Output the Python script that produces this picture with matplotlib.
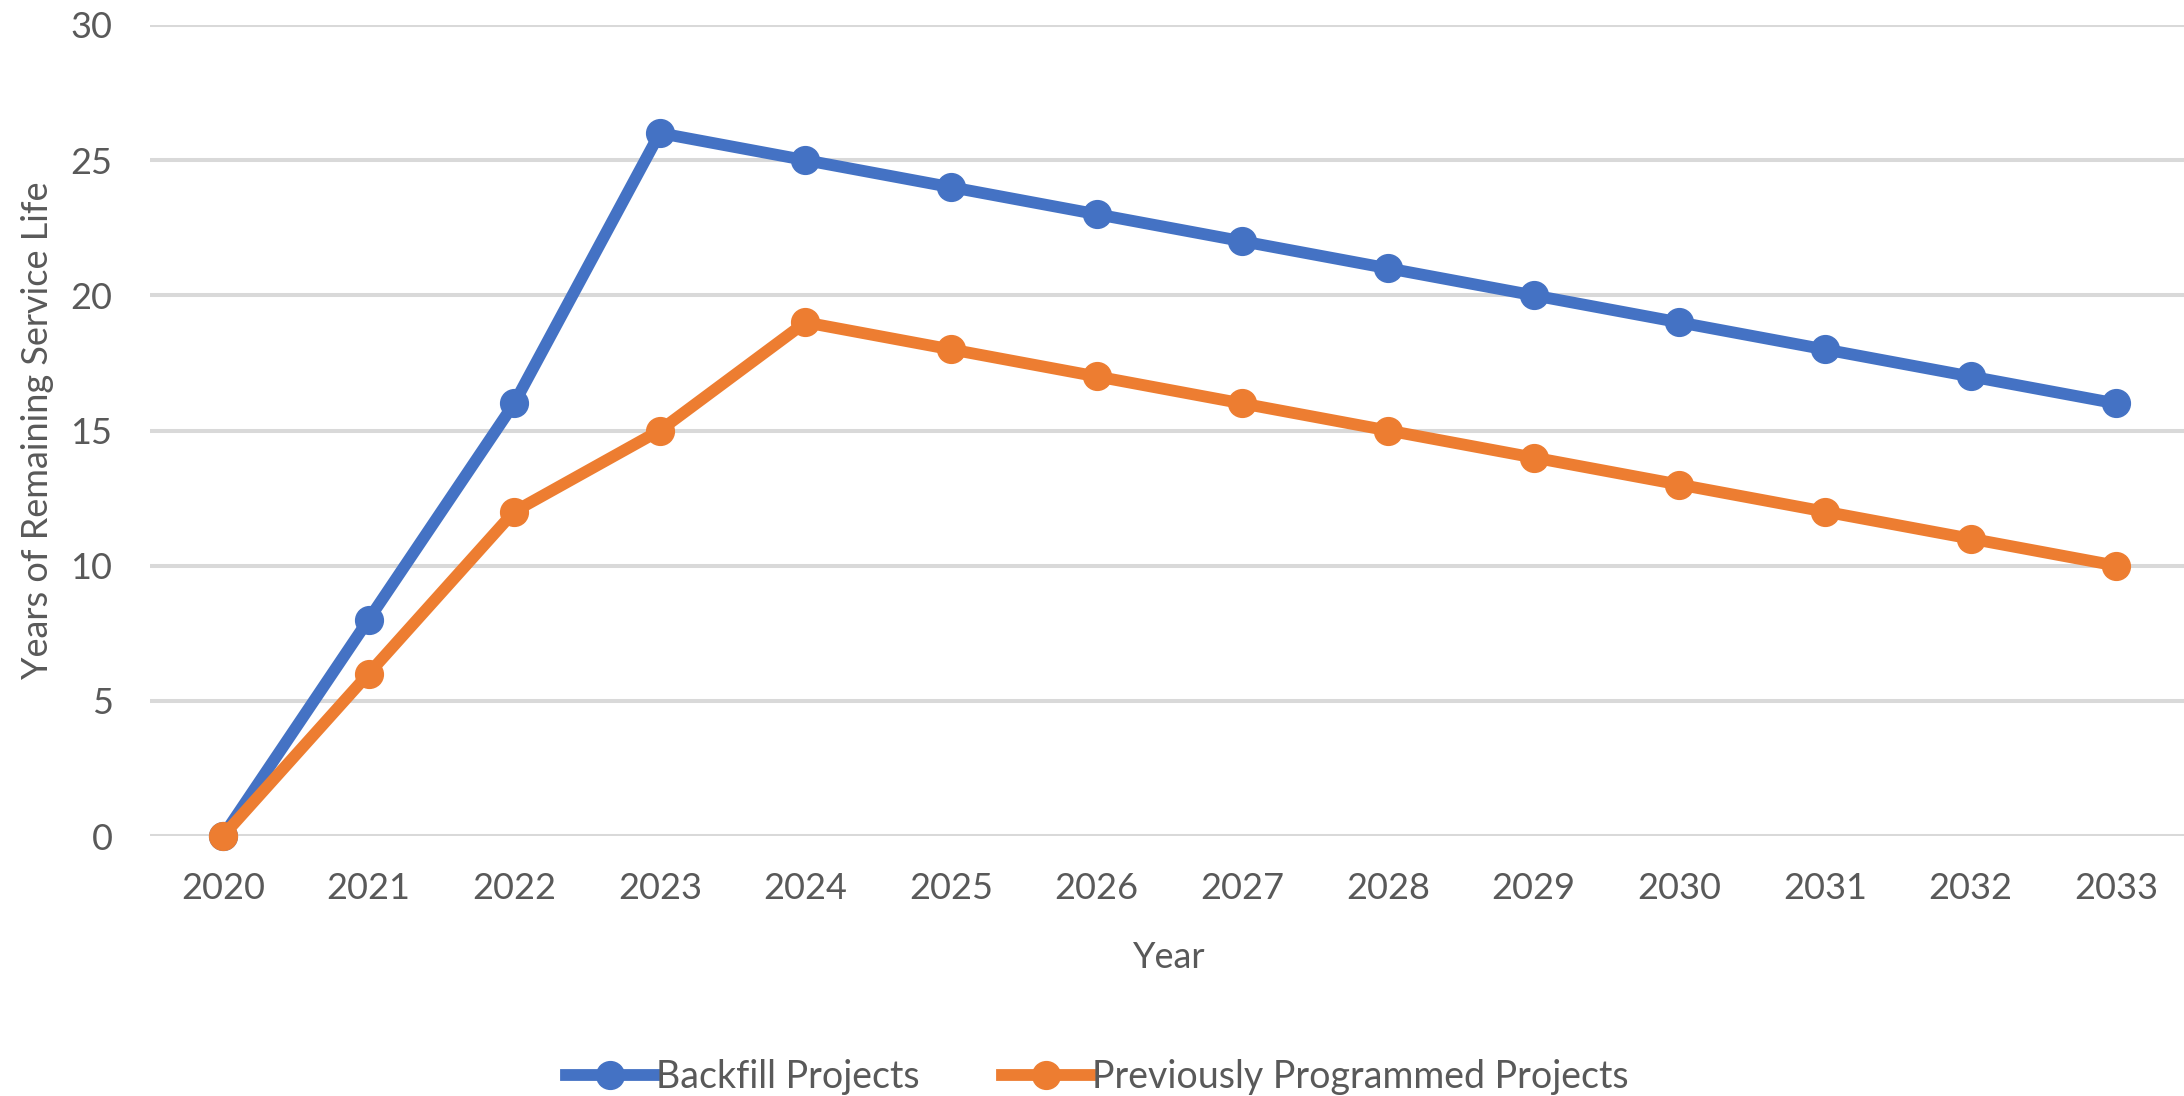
import matplotlib
matplotlib.use("Agg")
import matplotlib.pyplot as plt

# Data
years = [2020, 2021, 2022, 2023, 2024, 2025, 2026, 2027, 2028, 2029, 2030, 2031, 2032, 2033]
backfill = [0, 8, 16, 26, 25, 24, 23, 22, 21, 20, 19, 18, 17, 16]
previously_programmed = [0, 6, 12, 15, 19, 18, 17, 16, 15, 14, 13, 12, 11, 10]
series_names = ["Backfill Projects", "Previously Programmed Projects"]
y_ticks = [0, 5, 10, 15, 20, 25, 30]

# Excel-like styling
blue = "#4472C4"
orange = "#ED7D31"
text_color = "#595959"
grid_color = "#D9D9D9"
fs = 26

plt.rcParams["font.family"] = ["Lato", "DejaVu Sans"]

fig = plt.figure(figsize=(21.84, 10.96), dpi=100)
ax = fig.add_axes([0.0687, 0.2372, 0.9336, 0.74])

x = list(range(len(years)))
ax.plot(x, backfill, color=blue, lw=8.5, marker="o", markersize=20,
        label=series_names[0], clip_on=False, zorder=3)
ax.plot(x, previously_programmed, color=orange, lw=8.5, marker="o", markersize=20,
        label=series_names[1], clip_on=False, zorder=4)

ax.set_xlim(-0.5, len(years) - 0.5)
ax.set_ylim(0, 30)
ax.set_xticks(x)
ax.set_xticklabels([str(y) for y in years])
ax.set_yticks(y_ticks)

ax.grid(axis="y", color=grid_color, lw=2.9, zorder=0)
ax.set_axisbelow(True)
for s in ax.spines.values():
    s.set_visible(False)
ax.tick_params(axis="both", length=0, labelsize=fs, labelcolor=text_color)
ax.tick_params(axis="x", pad=26)
ax.tick_params(axis="y", pad=27)

ax.set_xlabel("Year", fontsize=fs, color=text_color, labelpad=26)
ax.set_ylabel("Years of Remaining Service Life", fontsize=fs, color=text_color)
ax.yaxis.set_label_coords(-0.047, 0.5)

fig.legend(loc="center", bbox_to_anchor=(0.5023, 0.0173), ncol=2, frameon=False,
           fontsize=27, labelcolor=text_color, handlelength=2.35, handletextpad=0.05,
           columnspacing=2.2, borderpad=0, numpoints=1)

fig.savefig("out.png", dpi=100, facecolor="white")
